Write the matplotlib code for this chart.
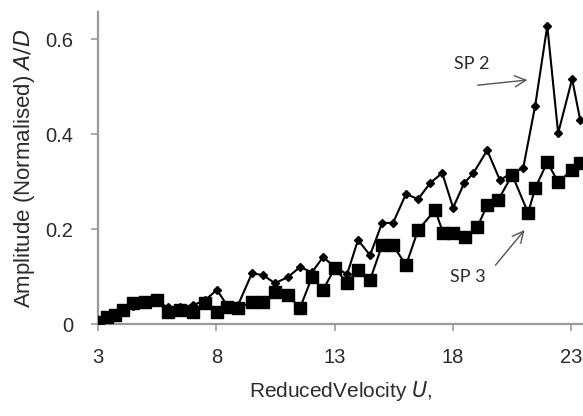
import matplotlib

matplotlib.use("Agg")
import matplotlib.pyplot as plt
from matplotlib.ticker import FuncFormatter

# SP 3 (square markers)
sp3_u = [3.0, 3.38, 3.72, 4.06, 4.48, 4.99, 5.49, 5.96, 6.47, 7.02, 7.52, 8.03,
         8.45, 8.92, 9.51, 9.98, 10.48, 11.03, 11.54, 12.05, 12.51, 13.02,
         13.53, 13.99, 14.50, 15.01, 15.47, 16.02, 16.53, 17.25, 17.59, 18.01,
         18.52, 19.03, 19.45, 19.91, 20.51, 21.18, 21.48, 21.99, 22.45, 23.04,
         23.38]
sp3_amp = [0.004, 0.015, 0.020, 0.029, 0.044, 0.046, 0.051, 0.025, 0.029,
           0.025, 0.044, 0.025, 0.036, 0.034, 0.046, 0.046, 0.067, 0.061,
           0.034, 0.099, 0.072, 0.118, 0.086, 0.114, 0.093, 0.166, 0.166,
           0.124, 0.198, 0.240, 0.192, 0.192, 0.183, 0.204, 0.250, 0.261,
           0.314, 0.234, 0.286, 0.341, 0.299, 0.324, 0.339]

# SP 2 (diamond markers)
sp2_u = [3.0, 3.38, 3.72, 4.06, 4.48, 4.99, 5.49, 5.96, 6.47, 7.02, 7.52, 8.03,
         8.45, 8.92, 9.51, 9.98, 10.48, 11.03, 11.54, 12.05, 12.51, 13.02,
         13.53, 13.99, 14.50, 15.01, 15.47, 16.02, 16.53, 17.04, 17.55, 18.01,
         18.48, 18.87, 19.45, 19.99, 20.47, 20.97, 21.48, 21.99, 22.45, 23.04,
         23.38]
sp2_amp = [0.008, 0.012, 0.020, 0.030, 0.038, 0.045, 0.048, 0.035, 0.035,
           0.040, 0.050, 0.072, 0.040, 0.040, 0.107, 0.103, 0.086, 0.099,
           0.120, 0.109, 0.141, 0.120, 0.105, 0.177, 0.145, 0.213, 0.213,
           0.274, 0.263, 0.297, 0.318, 0.245, 0.297, 0.318, 0.366, 0.303,
           0.318, 0.328, 0.460, 0.628, 0.402, 0.516, 0.430]

x_ticks = [3, 8, 13, 18, 23]
y_ticks = [0, 0.2, 0.4, 0.6]

plt.rcParams.update({
    "font.family": ["Liberation Sans", "DejaVu Sans"],
    "font.size": 14,
})

AXIS_GREY = "#999999"
TEXT_GREY = "#2b2b2b"
ARROW_GREY = "#555555"

fig = plt.figure(figsize=(5.83, 4.16), dpi=100)
ax = fig.add_axes([0.168, 0.221, 0.832, 0.75])

ax.plot(sp3_u, sp3_amp, color="black", lw=1.5, marker="s", ms=9.2,
        mec="black", mfc="black", zorder=3)
ax.plot(sp2_u, sp2_amp, color="black", lw=1.5, marker="D", ms=4.0,
        mec="black", mfc="black", zorder=4)

ax.set_xlim(3, 23.5)
ax.set_ylim(0, 0.657)
ax.set_xticks(x_ticks)
ax.set_yticks(y_ticks)
ax.yaxis.set_major_formatter(FuncFormatter(lambda v, _: "0" if v == 0 else f"{v:.1f}"))

for side in ("top", "right"):
    ax.spines[side].set_visible(False)
for side in ("left", "bottom"):
    ax.spines[side].set_color(AXIS_GREY)
    ax.spines[side].set_linewidth(1.6)
ax.tick_params(axis="both", colors=AXIS_GREY, labelcolor=TEXT_GREY,
               length=5, width=1.2, labelsize=14.5)
ax.tick_params(axis="x", pad=12)
ax.tick_params(axis="y", pad=13)

ax.set_xlabel("ReducedVelocity $\\it{U}$,", color=TEXT_GREY, fontsize=15,
              labelpad=9)
ax.set_ylabel("Amplitude (Normalised) $\\it{A/D}$", color=TEXT_GREY,
              fontsize=16, labelpad=6)

# labels with separate arrows
ax.text(18.8, 0.548, "SP 2", fontsize=13, color=TEXT_GREY,
        ha="center", va="center", family=["Lato", "DejaVu Sans"])
ax.annotate("", xy=(21.15, 0.514), xytext=(19.05, 0.503),
            arrowprops=dict(arrowstyle="->", color=ARROW_GREY, lw=1.0,
                            shrinkA=0, shrinkB=0, mutation_scale=20))
ax.text(18.65, 0.099, "SP 3", fontsize=13, color=TEXT_GREY,
        ha="center", va="center", family=["Lato", "DejaVu Sans"])
ax.annotate("", xy=(21.03, 0.198), xytext=(19.8, 0.124),
            arrowprops=dict(arrowstyle="->", color=ARROW_GREY, lw=1.0,
                            shrinkA=0, shrinkB=0, mutation_scale=20))

fig.savefig("out.png", dpi=100)
